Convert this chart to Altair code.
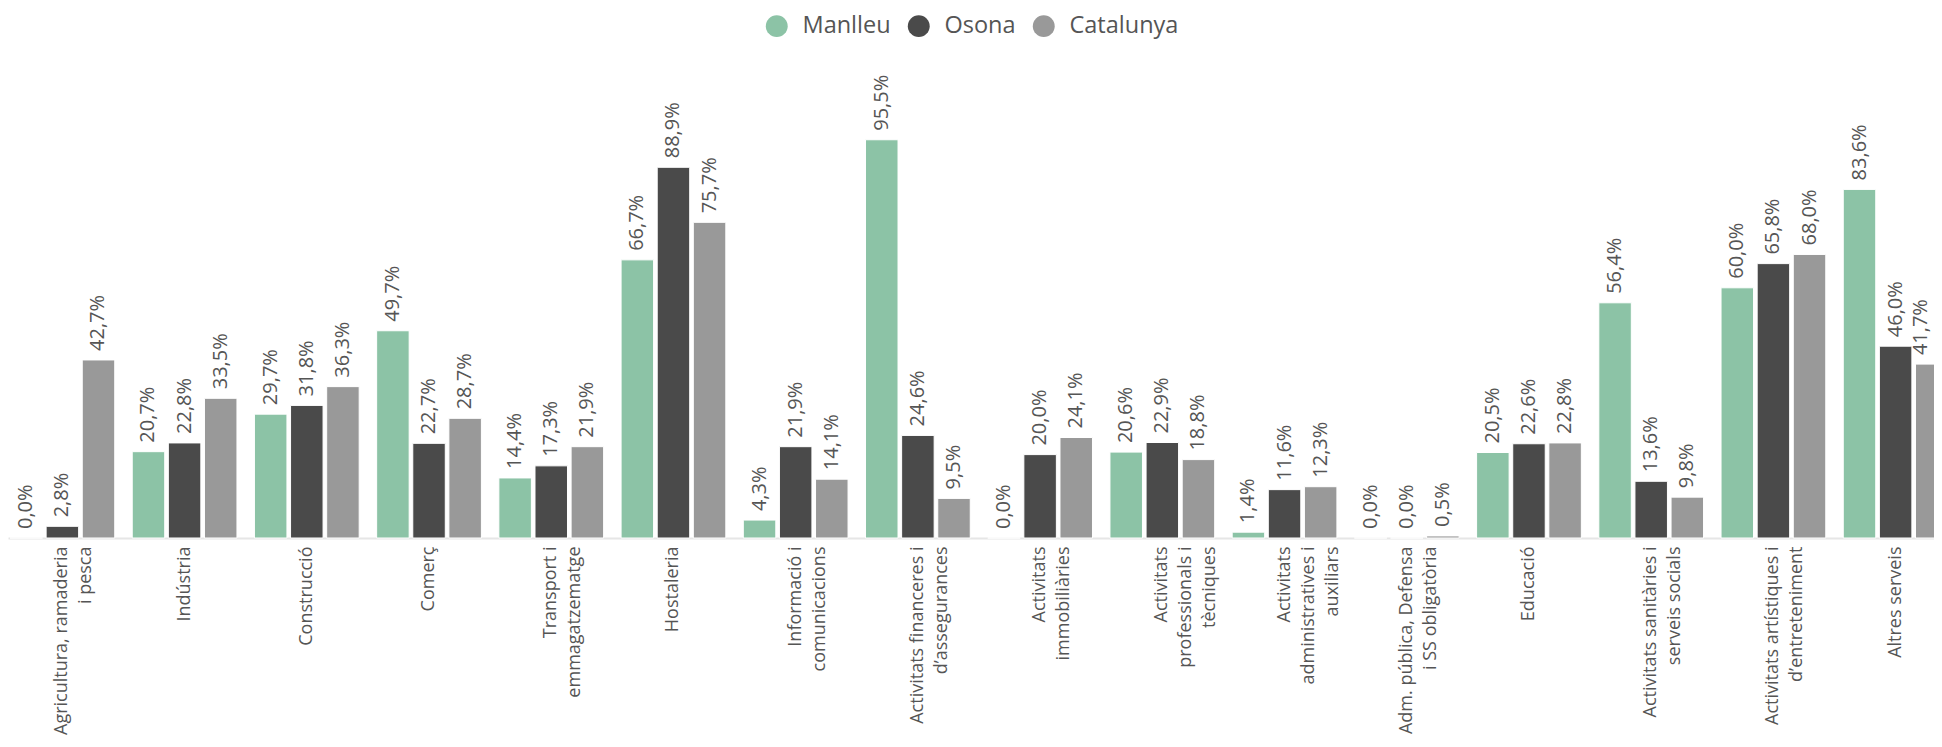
import altair as alt
import pandas as pd

categories = [
    "Agricultura, ramaderia\ni pesca",
    "Indústria",
    "Construcció",
    "Comerç",
    "Transport i\nemmagatzematge",
    "Hostaleria",
    "Informació i\ncomunicacions",
    "Activitats financeres i\nd’assegurances",
    "Activitats\nimmobiliàries",
    "Activitats\nprofessionals i\ntècniques",
    "Activitats\nadministratives i\nauxiliars",
    "Adm. pública, Defensa\ni SS obligatòria",
    "Educació",
    "Activitats sanitàries i\nserveis socials",
    "Activitats artístiques i\nd’entreteniment",
    "Altres serveis",
]
series = ["Manlleu", "Osona", "Catalunya"]
manlleu = [0.0, 20.7, 29.7, 49.7, 14.4, 66.7, 4.3, 95.5, 0.0, 20.6, 1.4, 0.0, 20.5, 56.4, 60.0, 83.6]
osona = [2.8, 22.8, 31.8, 22.7, 17.3, 88.9, 21.9, 24.6, 20.0, 22.9, 11.6, 0.0, 22.6, 13.6, 65.8, 46.0]
catalunya = [42.7, 33.5, 36.3, 28.7, 21.9, 75.7, 14.1, 9.5, 24.1, 18.8, 12.3, 0.5, 22.8, 9.8, 68.0, 41.7]
colors = ["#8cc3a6", "#4a4a4a", "#999999"]

rows = []
for name, vals in zip(series, [manlleu, osona, catalunya]):
    for c, v in zip(categories, vals):
        rows.append({"cat": c, "serie": name, "valor": v})
df = pd.DataFrame(rows)

x = alt.X(
    "cat:N",
    sort=categories,
    scale=alt.Scale(paddingInner=0.143, paddingOuter=0.0164, range=[0, 1942]),
    axis=alt.Axis(
        title=None,
        labelAngle=-90,
        labelExpr="split(datum.label, '\\n')",
        labelFont="Open Sans",
        labelFontSize=18,
        labelColor="#555555",
        labelLineHeight=24,
        labelPadding=8,
        labelLimit=400,
        ticks=False,
        domainColor="#e6e6e6",
        domainWidth=2,
        grid=False,
    ),
)
xoff = alt.XOffset("serie:N", sort=series, scale=alt.Scale(paddingInner=0.1, paddingOuter=0))
y = alt.Y("valor:Q", scale=alt.Scale(domain=[0, 100]), axis=None)
color = alt.Color(
    "serie:N",
    sort=series,
    scale=alt.Scale(domain=series, range=colors),
    legend=alt.Legend(
        title=None,
        orient="none",
        direction="horizontal",
        legendX=757,
        legendY=-107,
        symbolType="circle",
        symbolSize=480,
        symbolStrokeWidth=0,
        symbolOpacity=1,
        labelFont="Open Sans",
        labelFontSize=23.5,
        labelColor="#555555",
        labelOffset=14,
        columnPadding=16,
        padding=0,
    ),
)

bars = alt.Chart(df).mark_bar(stroke="white", strokeWidth=1).encode(
    x=x, xOffset=xoff, y=y, color=color
)

last_cat = categories[-1]
last_serie = series[-1]
is_edge = f"datum.cat === '{last_cat}' && datum.serie === '{last_serie}'"

base_labels = alt.Chart(df).transform_calculate(
    txt="replace(format(datum.valor, '.1f'), '.', ',') + '%'"
)
text_style = dict(angle=270, align="left", baseline="middle", dx=9,
                  font="Open Sans", fontSize=20, color="#555555")
labels = base_labels.transform_filter(f"!({is_edge})").mark_text(**text_style).encode(
    x=x, xOffset=xoff, y=y, text="txt:N"
)
# label kept inside the plot edge (as the original does)
edge_label = base_labels.transform_filter(is_edge).mark_text(dy=-11, **text_style).encode(
    x=x, xOffset=xoff, y=y, text="txt:N"
)

chart = alt.layer(bars, labels, edge_label).properties(
    width=1926,
    height=417,
    autosize=alt.AutoSizeParams(type="none"),
    padding={"left": 0, "right": 0, "top": 113, "bottom": 197},
).configure_view(stroke=None)

chart.save("out.html", embed_options={"renderer": "svg", "actions": False})
